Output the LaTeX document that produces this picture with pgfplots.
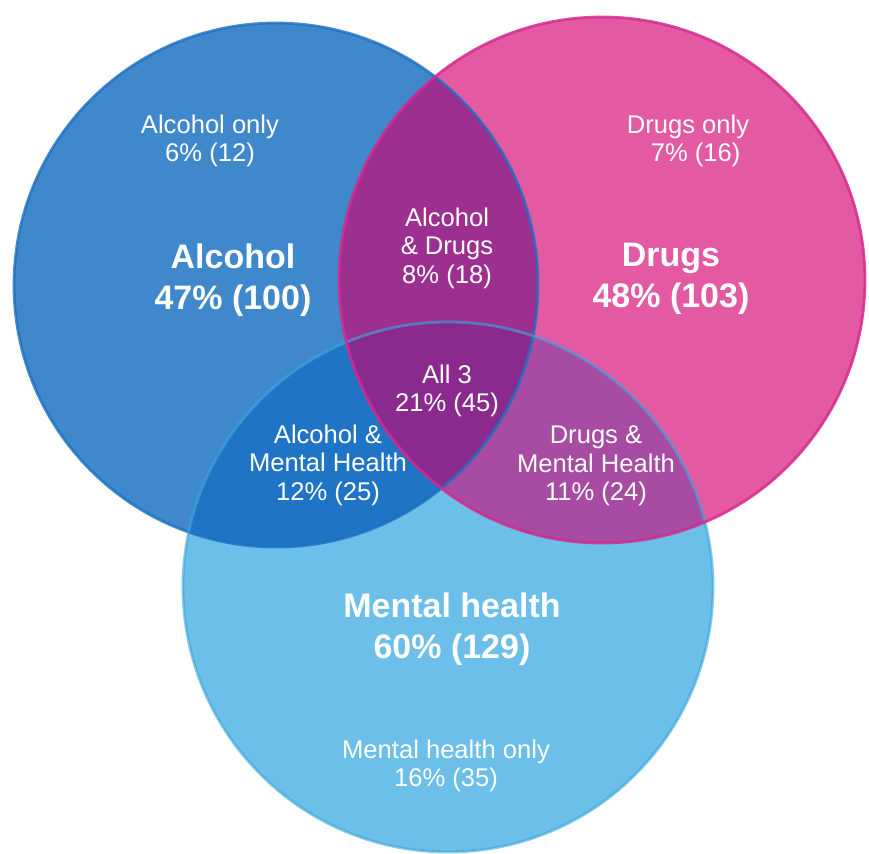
\documentclass[border=0pt]{standalone}
\usepackage{pgfplots}
\pgfplotsset{compat=1.18}
\usepackage{fontspec}
\setmainfont{Liberation Sans}

\definecolor{cAlc}{HTML}{3F88CC}
\definecolor{cAlcLine}{HTML}{1C6FC2}
\definecolor{cDrg}{HTML}{E35AA2}
\definecolor{cDrgLine}{HTML}{D42A8E}
\definecolor{cMH}{HTML}{6BBFE9}
\definecolor{cMHLine}{HTML}{3AA6DD}
\definecolor{cAD}{HTML}{9C2F8F}
\definecolor{cAM}{HTML}{1F74C6}
\definecolor{cDM}{HTML}{A84BA2}
\definecolor{cAll}{HTML}{8B2A8E}

\newcommand{\labsmall}{\fontsize{12.8}{14.2}\selectfont}
\newcommand{\labbig}{\fontsize{17}{20.5}\selectfont\bfseries}

\begin{document}
\begin{tikzpicture}
\begin{axis}[
    scale only axis,
    width=434.5pt, height=426.5pt,
    xmin=0, xmax=869, ymin=0, ymax=853,
    y dir=reverse,
    hide axis,
    clip=false,
]
% keep the whole canvas in the bounding box
\path (axis cs:0,0) rectangle (axis cs:869,853);

% base circles: alcohol (276,285) r262, drugs (602,280) r263, mental health (448,587) r265
\fill[cAlc] (axis cs:276,285) circle[radius=262];
\fill[cDrg] (axis cs:602,280) circle[radius=263];
\fill[cMH]  (axis cs:448,587) circle[radius=265];

% pairwise overlaps
\begin{scope}
  \clip (axis cs:276,285) circle[radius=262];
  \fill[cAD] (axis cs:602,280) circle[radius=263];
  \fill[cAM] (axis cs:448,587) circle[radius=265];
\end{scope}
\begin{scope}
  \clip (axis cs:602,280) circle[radius=263];
  \fill[cDM] (axis cs:448,587) circle[radius=265];
\end{scope}
% all three
\begin{scope}
  \clip (axis cs:276,285) circle[radius=262];
  \clip (axis cs:602,280) circle[radius=263];
  \fill[cAll] (axis cs:448,587) circle[radius=265];
\end{scope}

% outlines
\draw[cAlcLine, line width=1.4pt, opacity=0.8] (axis cs:276,285) circle[radius=262];
\draw[cMHLine, line width=1.4pt, opacity=0.6] (axis cs:448,587) circle[radius=265];
\draw[cDrgLine, line width=1.4pt, opacity=0.85] (axis cs:602,280) circle[radius=263];

% labels
\tikzset{lab/.style={text=white, align=center, inner sep=0pt}}
\node[lab, font=\labsmall] at (axis cs:210,141) {Alcohol only\\6\% (12)};
\node[lab, font=\labbig]   at (axis cs:233,280) {Alcohol\\47\% (100)};
\node[lab, font=\labsmall] at (axis cs:688,141) {Drugs only\\\hspace*{0.6em}7\% (16)};
\node[lab, font=\labbig]   at (axis cs:671,279) {Drugs\\48\% (103)};
\node[lab, font=\labsmall] at (axis cs:447,248) {Alcohol\\\& Drugs\\8\% (18)};
\node[lab, font=\labsmall] at (axis cs:447,391) {All 3\\21\% (45)};
\node[lab, font=\labsmall] at (axis cs:328,465) {Alcohol \&\\Mental Health\\12\% (25)};
\node[lab, font=\labsmall] at (axis cs:596,466) {Drugs \&\\Mental Health\\11\% (24)};
\node[lab, font=\labbig]   at (axis cs:452,629) {Mental health\\60\% (129)};
\node[lab, font=\labsmall] at (axis cs:446,766) {Mental health only\\16\% (35)};
\end{axis}
\end{tikzpicture}
\end{document}
